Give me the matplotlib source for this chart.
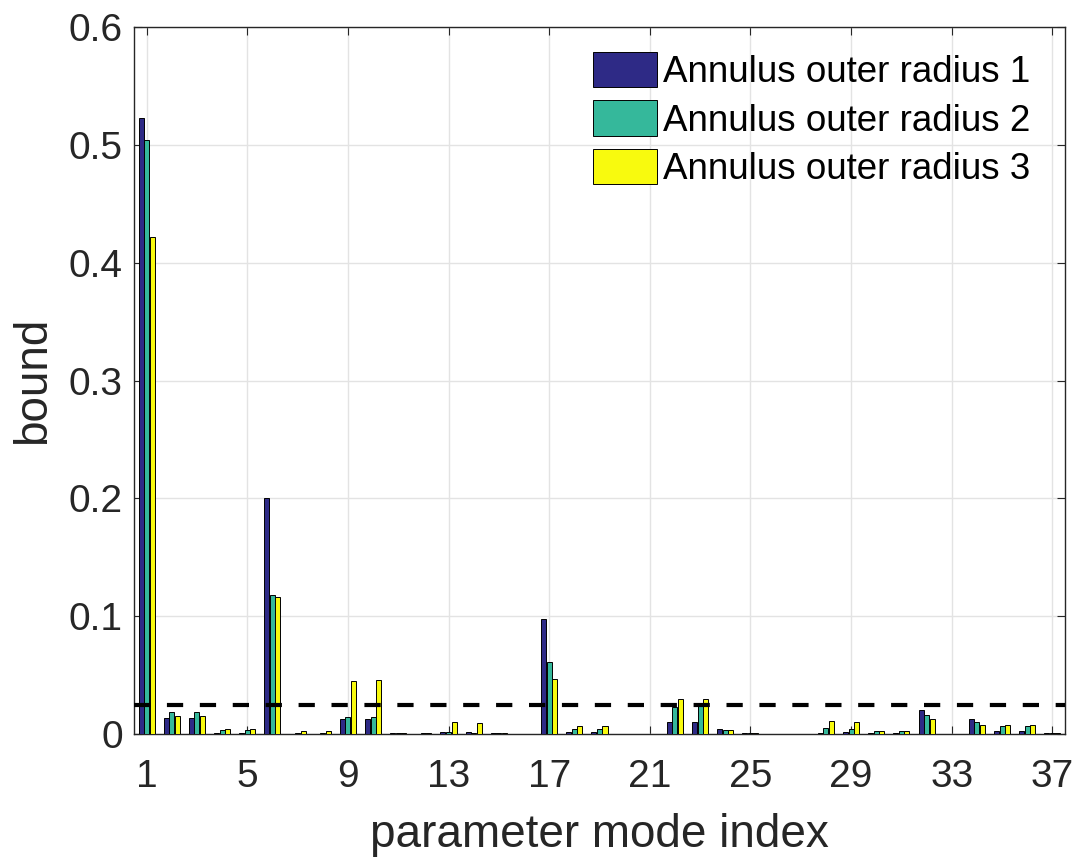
import numpy as np
import matplotlib.pyplot as plt

plt.rcParams['font.family'] = ['Liberation Sans', 'DejaVu Sans']

modes = np.arange(1, 38)

radius1 = [0.523, 0.0136, 0.0136, 0.001, 0.0005, 0.200, 0.0002, 0.0003, 0.0127, 0.0127,
           0.001, 0.0003, 0.0014, 0.0014, 0.0005, 0.0003, 0.0976, 0.0017, 0.0014, 0.0003,
           0.0003, 0.0102, 0.0102, 0.004, 0.0005, 0.0003, 0.0003, 0.0008, 0.0014, 0.0005,
           0.0005, 0.0201, 0.0003, 0.0130, 0.0025, 0.0025, 0.0005]
radius2 = [0.504, 0.0184, 0.0184, 0.0034, 0.0034, 0.118, 0.0005, 0.001, 0.0144, 0.0144,
           0.001, 0.0005, 0.0017, 0.0008, 0.0005, 0.0003, 0.061, 0.004, 0.004, 0.0003,
           0.0003, 0.0232, 0.0235, 0.0034, 0.0005, 0.0003, 0.0003, 0.0048, 0.004, 0.0025,
           0.0025, 0.0164, 0.0003, 0.0105, 0.0065, 0.0065, 0.001]
radius3 = [0.422, 0.0156, 0.0156, 0.004, 0.004, 0.1166, 0.0023, 0.0025, 0.045, 0.0458,
           0.0008, 0.001, 0.0099, 0.0096, 0.0005, 0.0003, 0.0467, 0.0065, 0.0065, 0.0003,
           0.0003, 0.0297, 0.0300, 0.003, 0.0005, 0.0003, 0.0003, 0.0110, 0.010, 0.0023,
           0.0023, 0.0125, 0.0003, 0.0079, 0.0073, 0.0076, 0.0005]
labels = ['Annulus outer radius 1', 'Annulus outer radius 2', 'Annulus outer radius 3']
threshold = 0.025

colors = ['#2e2a86', '#35b89b', '#f8fa0e']
txt = '#262626'

fig = plt.figure(figsize=(10.78, 8.59), dpi=100)
ax = fig.add_axes([0.1243, 0.1455, 0.8636, 0.823])

w = 0.2
offs = [-0.22, 0.0, 0.22]
for vals, off, c, lab in zip([radius1, radius2, radius3], offs, colors, labels):
    ax.bar(modes + off, vals, width=w, color=c, edgecolor='black', linewidth=0.7, label=lab, zorder=3)

ax.axhline(threshold, color='black', linestyle=(0, (3.9, 4.0)), linewidth=3, zorder=4)

ax.set_xlim(0.5, 37.5)
ax.set_ylim(0, 0.6)
ax.set_xticks(np.arange(1, 38, 4))
ax.set_yticks(np.arange(0, 0.61, 0.1))
ax.set_yticklabels(['0', '0.1', '0.2', '0.3', '0.4', '0.5', '0.6'])
ax.grid(True, color='#e3e3e3', linewidth=1, zorder=0)
ax.set_axisbelow(True)
ax.tick_params(labelsize=28, colors=txt, direction='in', length=6, top=True, right=True)
ax.tick_params(axis='x', pad=18)
ax.tick_params(axis='y', pad=8)
for s in ax.spines.values():
    s.set_color(txt)
    s.set_linewidth(1)

ax.set_xlabel('parameter mode index', fontsize=33, color=txt, labelpad=13)
ax.set_ylabel('bound', fontsize=33, color=txt, labelpad=10)

leg = ax.legend(loc='upper left', bbox_to_anchor=(593 / 1078, 1 - 52 / 859),
                bbox_transform=fig.transFigure, fontsize=26.5, frameon=False,
                handlelength=1.74, handleheight=1.1, borderpad=0, borderaxespad=0,
                labelspacing=0.28, handletextpad=0.16)
for t in leg.get_texts():
    t.set_color('black')

fig.savefig('out.png', dpi=100)
